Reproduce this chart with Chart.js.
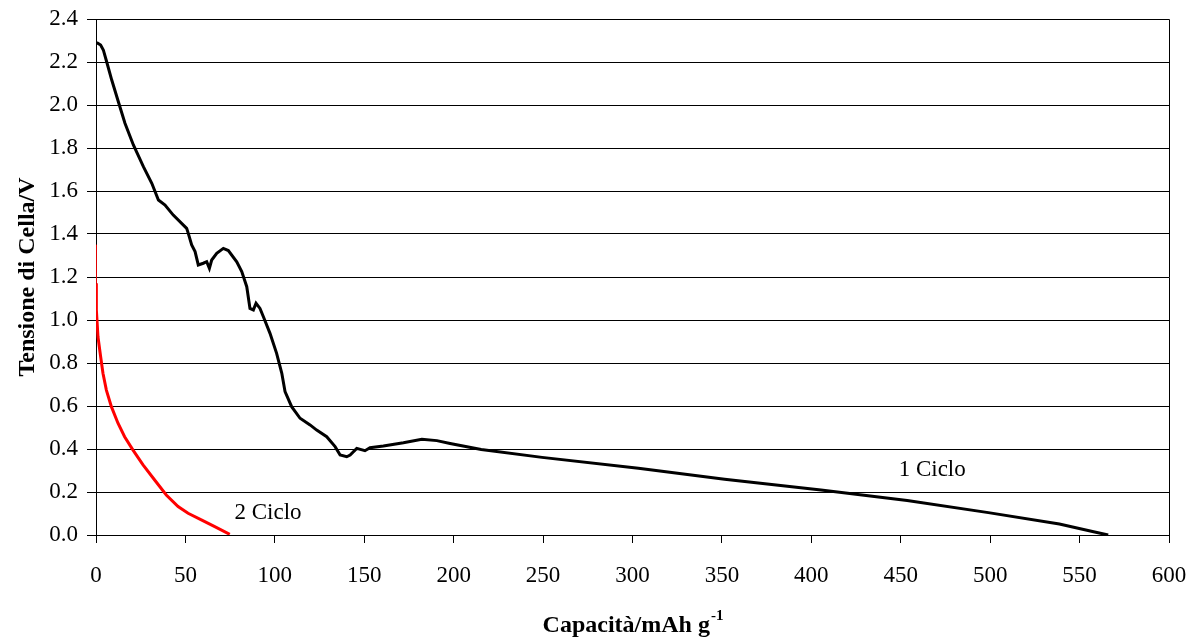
<!DOCTYPE html>
<html>
<head>
<meta charset="utf-8">
<script src="https://cdn.jsdelivr.net/npm/chart.js@4/dist/chart.umd.min.js"></script>
<style>
  body { margin: 0; background: #fff; }
  #wrap { width: 1196px; height: 639px; }
</style>
</head>
<body>
<div id="wrap"><canvas id="grafico" width="1196" height="639"></canvas></div>
<script>
// 1 Ciclo: capacità (mAh/g) e tensione (V)
const ciclo1Cap = [0.4, 2.6, 4.1, 6, 8.8, 12.5, 16.2, 20.9, 26.5, 31.2, 34.9, 38.6, 43.2, 50.7, 51.6, 53.5, 55.4, 57.2, 60, 61.9, 63.4, 64.7, 67.5, 71.2, 74, 78.7, 81.5, 84.3, 86.1, 88, 89.5, 91.7, 93.6, 97.3, 101, 103.9, 105.7, 109.4, 114.1, 119.7, 123.4, 129, 133.7, 136.5, 140.2, 142.1, 145.8, 150.4, 153.2, 160.7, 171.9, 182.2, 190.6, 198, 215.4, 249.4, 303.3, 351.5, 405.4, 453.6, 499, 538.7, 557.2, 566];
const ciclo1V = [2.29, 2.279, 2.256, 2.20, 2.116, 2.015, 1.915, 1.814, 1.713, 1.636, 1.558, 1.535, 1.488, 1.426, 1.403, 1.349, 1.318, 1.256, 1.264, 1.271, 1.24, 1.279, 1.31, 1.333, 1.323, 1.271, 1.225, 1.155, 1.054, 1.047, 1.078, 1.054, 1.015, 0.938, 0.845, 0.752, 0.667, 0.597, 0.543, 0.512, 0.488, 0.457, 0.411, 0.372, 0.364, 0.372, 0.403, 0.392, 0.406, 0.414, 0.429, 0.445, 0.439, 0.426, 0.398, 0.361, 0.31, 0.259, 0.209, 0.16, 0.104, 0.051, 0.016, 0.0];

// 2 Ciclo
const ciclo2Cap = [0, 0, 0.2, 1.1, 2.6, 3.9, 5.8, 8.6, 12.3, 16, 20.7, 26.3, 32.8, 39.3, 45.9, 51.5, 58.9, 66.4, 74.8];
const ciclo2V = [1.35, 1.171, 1.047, 0.922, 0.829, 0.752, 0.674, 0.597, 0.52, 0.457, 0.395, 0.326, 0.256, 0.186, 0.132, 0.101, 0.07, 0.039, 0.003];

// Etichette delle curve (posizione in unità dei dati)
const etichette = ["1 Ciclo", "2 Ciclo"];
const etichetteX = [467.6, 96.2];
const etichetteY = [0.302, 0.102];

const FONT = "'Liberation Serif', 'Times New Roman', serif";

/* Unisce due array in punti {x, y} */
function punti(xs, ys) {
    return xs.map((x, i) => ({ x: x, y: ys[i] }));
}

/* Cornice, etichette delle curve e titolo dell'asse x con apice */
const extra = {
    id: "extra",
    afterDraw(chart) {
        const ctx = chart.ctx;
        const a = chart.chartArea;
        const sx = chart.scales.x, sy = chart.scales.y;
        ctx.save();
        // bordo superiore e destro
        ctx.strokeStyle = "#000";
        ctx.lineWidth = 1;
        ctx.beginPath();
        ctx.moveTo(a.left, a.top + 0.5);
        ctx.lineTo(a.right + 0.5, a.top + 0.5);
        ctx.lineTo(a.right + 0.5, a.bottom);
        ctx.stroke();

        // etichette delle curve
        ctx.fillStyle = "#000";
        ctx.font = "23px " + FONT;
        ctx.textAlign = "center";
        ctx.textBaseline = "middle";
        etichette.forEach((t, i) => {
            ctx.fillText(t, sx.getPixelForValue(etichetteX[i]), sy.getPixelForValue(etichetteY[i]));
        });

        // titolo asse x: "Capacità/mAh g" + apice "-1"
        const base = "Capacità/mAh g";
        const sup = "-1";
        ctx.font = "bold 24px " + FONT;
        const w1 = ctx.measureText(base).width;
        ctx.font = "bold 15px " + FONT;
        const w2 = ctx.measureText(sup).width;
        const cx = (a.left + a.right) / 2;
        const x0 = cx - (w1 + w2) / 2;
        const yb = 632;
        ctx.textAlign = "left";
        ctx.textBaseline = "alphabetic";
        ctx.font = "bold 24px " + FONT;
        ctx.fillText(base, x0, yb);
        ctx.font = "bold 15px " + FONT;
        ctx.fillText(sup, x0 + w1 + 1, yb - 12);
        ctx.restore();
    }
};

const ctx = document.getElementById("grafico").getContext("2d");
new Chart(ctx, {
    type: "line",
    data: {
        datasets: [
            {
                label: "1 Ciclo",
                data: punti(ciclo1Cap, ciclo1V),
                borderColor: "#000",
                borderWidth: 3,
                pointRadius: 0,
                tension: 0,
                fill: false,
            },
            {
                label: "2 Ciclo",
                data: punti(ciclo2Cap, ciclo2V),
                borderColor: "#ff0000",
                borderWidth: 3,
                pointRadius: 0,
                tension: 0,
                fill: false,
                // il primo tratto verticale è sottile
                segment: { borderWidth: (c) => (c.p0DataIndex === 0 ? 1 : 3) },
            },
        ],
    },
    options: {
        responsive: false,
        animation: false,
        layout: { padding: { top: 19, right: 27, left: 0, bottom: 0 } },
        plugins: { legend: { display: false }, tooltip: { enabled: false } },
        scales: {
            x: {
                type: "linear",
                min: 0,
                max: 600,
                afterFit: (s) => {
                    s.height = 104;
                    s.paddingLeft = 0;
                    s.paddingRight = 0;
                },
                ticks: {
                    stepSize: 50,
                    color: "#000",
                    font: { family: FONT, size: 23 },
                    padding: 19,
                    maxRotation: 0,
                },
                grid: { drawOnChartArea: false, drawTicks: true, tickLength: 8, tickColor: "#000" },
                border: { color: "#000", width: 1 },
            },
            y: {
                min: 0,
                max: 2.4,
                afterFit: (s) => {
                    s.width = 96;
                    s.paddingTop = 0;
                    s.paddingBottom = 0;
                },
                ticks: {
                    stepSize: 0.2,
                    color: "#000",
                    font: { family: FONT, size: 23 },
                    padding: 9,
                    callback: (v) => v.toFixed(1),
                },
                grid: { color: "#000", lineWidth: 1, drawTicks: true, tickLength: 9, tickColor: "#000" },
                border: { color: "#000", width: 1 },
                title: {
                    display: true,
                    text: "Tensione di Cella/V",
                    color: "#000",
                    font: { family: FONT, size: 24, weight: "bold" },
                    padding: { top: 13, bottom: 0 },
                },
            },
        },
    },
    plugins: [extra],
});
</script>
</body>
</html>
